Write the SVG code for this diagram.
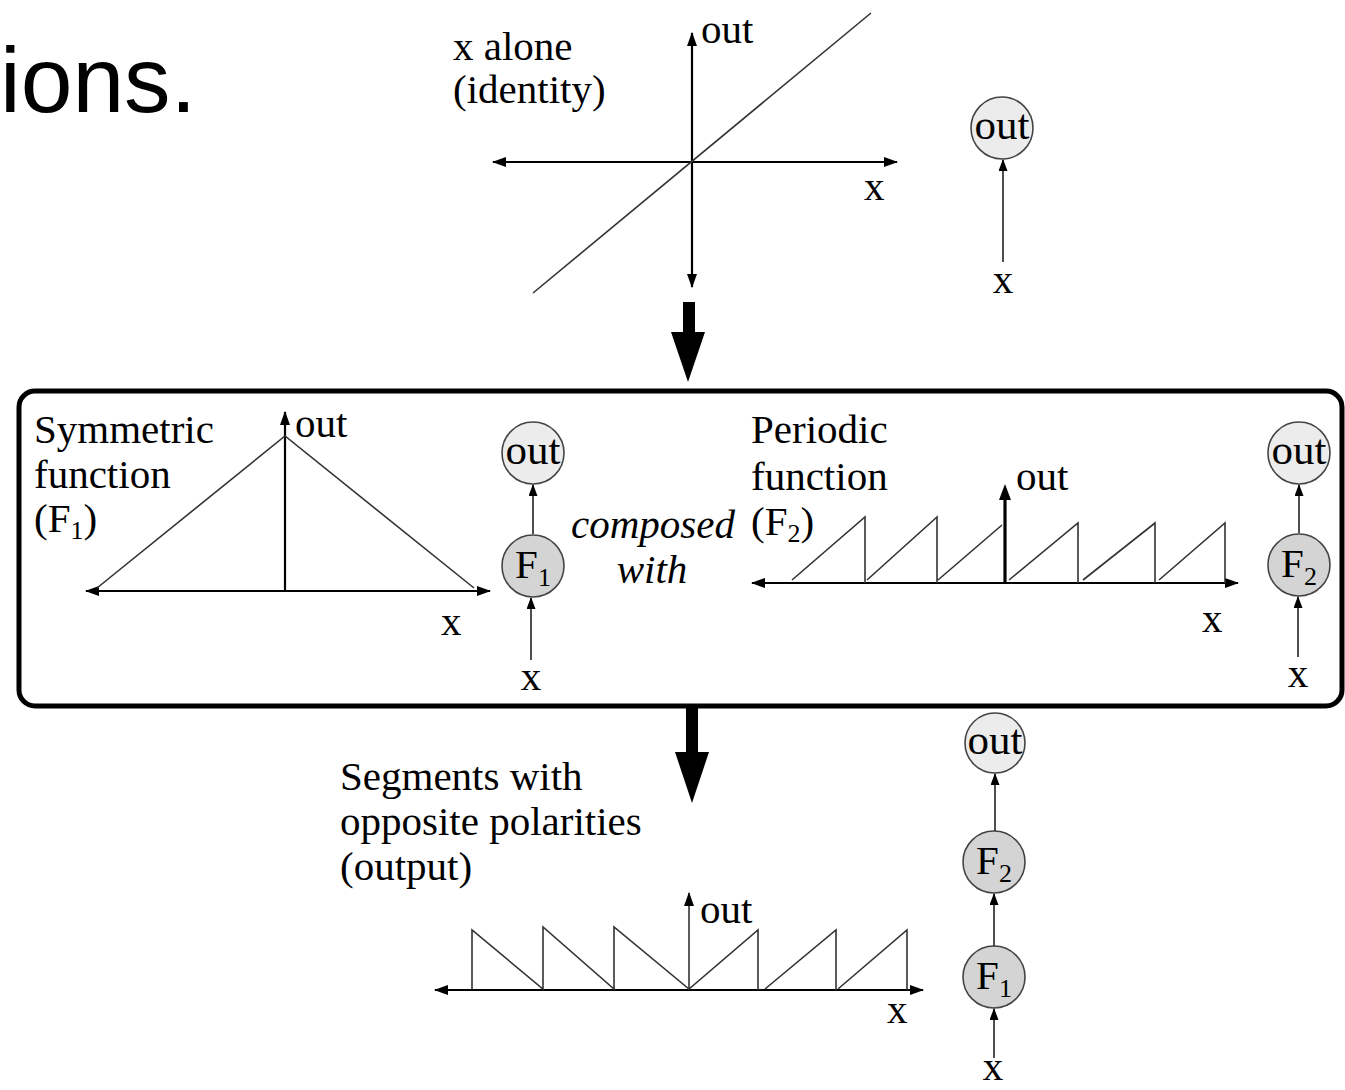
<svg xmlns="http://www.w3.org/2000/svg" width="1345" height="1090" viewBox="0 0 1345 1090">
<defs>
<marker id="ah" markerUnits="userSpaceOnUse" viewBox="0 0 14 10" markerWidth="14" markerHeight="10" refX="13" refY="5" orient="auto-start-reverse"><path d="M0,0 L14,5 L0,10 z" fill="#000"/></marker>
<marker id="ahs" markerUnits="userSpaceOnUse" viewBox="0 0 12 9" markerWidth="12" markerHeight="9" refX="11" refY="4.5" orient="auto"><path d="M0,0 L12,4.5 L0,9 z" fill="#000"/></marker>
</defs>
<style>
.t{font-family:"Liberation Serif","Times New Roman",serif;font-size:41px;fill:#000}
.nt{font-size:43px}
.it{font-style:italic}
.sb{font-size:26px}
.ax{stroke:#000;stroke-width:2.2;fill:none}
.axm{marker-start:url(#ah);marker-end:url(#ah)}
.axe{marker-end:url(#ah)}
.fn{stroke:#333;stroke-width:1.6;fill:none}
.n1{fill:#ececec;stroke:#444;stroke-width:1.6}
.n2{fill:#d4d4d4;stroke:#444;stroke-width:1.6}
.ed{stroke:#222;stroke-width:1.6;fill:none;marker-end:url(#ahs)}
.big{fill:#000}
</style>
<rect width="1345" height="1090" fill="#fff"/>

<text x="0" y="112" font-family="'Liberation Sans','Noto Sans',sans-serif" font-size="93" fill="#000">ions.</text>

<!-- identity plot -->
<g id="plot-identity">
<line class="ax axm" x1="493" y1="162" x2="897" y2="162"/>
<line class="ax axm" x1="692" y1="287" x2="692" y2="33"/>
<line class="fn" x1="533" y1="293" x2="871" y2="13"/>
<text class="t" x="701" y="43">out</text>
<text class="t" x="864" y="200">x</text>
<text class="t" x="453" y="60">x alone</text>
<text class="t" x="453" y="103">(identity)</text>
</g>

<!-- big arrows -->
<g id="arrow-down-1"><rect class="big" x="683" y="302" width="12" height="32"/><polygon class="big" points="671,332 705,332 688,382"/></g>
<g id="arrow-down-2"><rect class="big" x="686" y="706" width="12" height="48"/><polygon class="big" points="675,752 709,752 692,803"/></g>

<!-- box -->
<rect id="compose-box" x="19" y="391" width="1323" height="315" rx="16" fill="none" stroke="#000" stroke-width="5"/>

<!-- symmetric plot -->
<g id="plot-symmetric">
<line class="ax axm" x1="86" y1="591" x2="490" y2="591"/>
<line class="ax axe" x1="285" y1="591" x2="285" y2="412"/>
<polyline class="fn" points="97,588 285,436 474,588"/>
<text class="t" x="295" y="437">out</text>
<text class="t" x="441" y="635">x</text>
<text class="t" x="34" y="443">Symmetric</text>
<text class="t" x="34" y="488">function</text>
<text class="t" x="34" y="532">(F<tspan class="sb" dy="7">1</tspan><tspan dy="-7">)</tspan></text>
</g>

<text class="t it" x="571" y="538">composed</text>
<text class="t it" x="652" y="583" text-anchor="middle">with</text>

<!-- periodic plot -->
<g id="plot-periodic">
<line class="ax axm" x1="752" y1="583" x2="1238" y2="583"/>
<line stroke="#000" stroke-width="3.2" x1="1005" y1="583" x2="1005" y2="500"/>
<polygon points="999,500 1011,500 1005,484" fill="#000"/>
<path class="fn" d="M792,580 L865,517 L865,583 M867,580 L937,517 L937,583 M938,580 L1002,525 M1009,580 L1078,523 L1078,583 M1083,580 L1155,523 L1155,583 M1159,580 L1225,523 L1225,583"/>
<text class="t" x="1016" y="490">out</text>
<text class="t" x="1202" y="632">x</text>
<text class="t" x="751" y="443">Periodic</text>
<text class="t" x="751" y="490">function</text>
<text class="t" x="751" y="535">(F<tspan class="sb" dy="7">2</tspan><tspan dy="-7">)</tspan></text>
</g>

<!-- output plot -->
<g id="plot-output">
<line class="ax axm" x1="435" y1="990" x2="923" y2="990"/>
<line class="fn axe" stroke="#000" x1="689" y1="990" x2="689" y2="893"/>
<path class="fn" d="M472,990 L472,930 L543,989 L543,927 L614,989 L614,927 L689,989 L758,930 L758,990 M765,989 L836,930 L836,990 M838,989 L907,930 L907,990"/>
<text class="t" x="700" y="923">out</text>
<text class="t" x="887" y="1023">x</text>
<text class="t" x="340" y="790">Segments with</text>
<text class="t" x="340" y="835">opposite polarities</text>
<text class="t" x="340" y="880">(output)</text>
</g>

<!-- nodes -->
<g id="node-out-top"><circle class="n1" cx="1002" cy="128" r="31"/><text class="t nt" x="1002" y="139" text-anchor="middle">out</text></g>
<g id="node-out-f1"><circle class="n1" cx="533" cy="453" r="31"/><text class="t nt" x="533" y="464" text-anchor="middle">out</text></g>
<g id="node-f1"><circle class="n2" cx="533" cy="566" r="31"/><text class="t" x="533" y="578" text-anchor="middle">F<tspan class="sb" dy="8">1</tspan></text></g>
<g id="node-out-f2"><circle class="n1" cx="1299" cy="453" r="31"/><text class="t nt" x="1299" y="464" text-anchor="middle">out</text></g>
<g id="node-f2"><circle class="n2" cx="1299" cy="565" r="31"/><text class="t" x="1299" y="577" text-anchor="middle">F<tspan class="sb" dy="8">2</tspan></text></g>
<g id="node-out-bottom"><circle class="n1" cx="995" cy="743" r="30"/><text class="t nt" x="995" y="754" text-anchor="middle">out</text></g>
<g id="node-f2-bottom"><circle class="n2" cx="994" cy="862" r="31"/><text class="t" x="994" y="874" text-anchor="middle">F<tspan class="sb" dy="8">2</tspan></text></g>
<g id="node-f1-bottom"><circle class="n2" cx="994" cy="977" r="31"/><text class="t" x="994" y="989" text-anchor="middle">F<tspan class="sb" dy="8">1</tspan></text></g>

<g id="input-labels">
<text class="t" x="1003" y="293" text-anchor="middle">x</text>
<text class="t" x="531" y="690" text-anchor="middle">x</text>
<text class="t" x="1298" y="687" text-anchor="middle">x</text>
<text class="t" x="993" y="1080" text-anchor="middle">x</text>
</g>

<!-- connectors -->
<g id="connectors">
<line class="ed" x1="1003" y1="262" x2="1003" y2="160"/>
<line class="ed" x1="533" y1="534" x2="533" y2="485"/>
<line class="ed" x1="531" y1="660" x2="531" y2="598"/>
<line class="ed" x1="1299" y1="533" x2="1299" y2="485"/>
<line class="ed" x1="1298" y1="657" x2="1298" y2="597"/>
<line class="ed" x1="995" y1="831" x2="995" y2="774"/>
<line class="ed" x1="994" y1="946" x2="994" y2="894"/>
<line class="ed" x1="994" y1="1058" x2="994" y2="1009"/>
</g>
</svg>
